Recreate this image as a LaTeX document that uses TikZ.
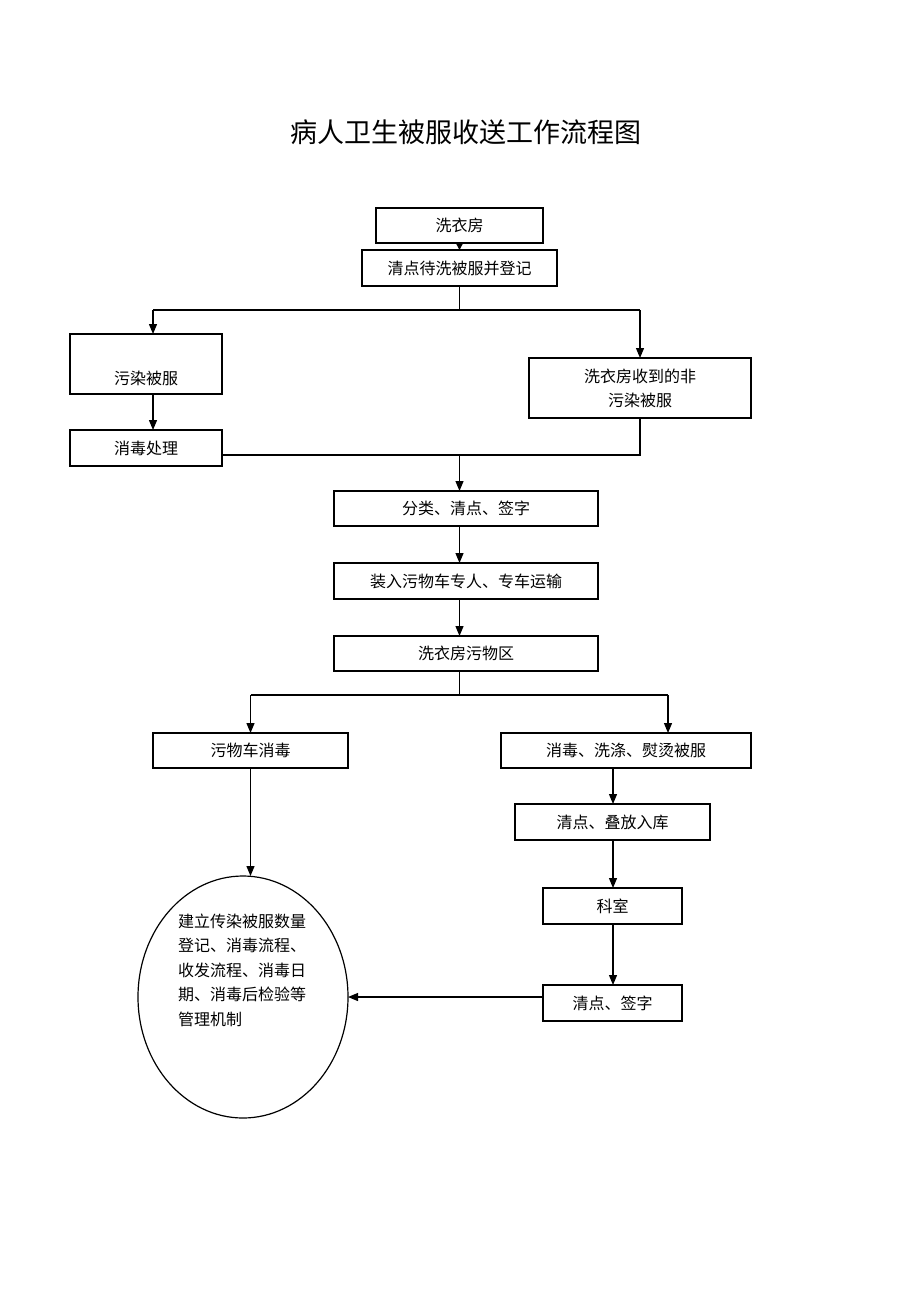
\documentclass[tikz,border=0pt]{standalone}
\usepackage{fontspec}
\setmainfont{Noto Sans CJK SC}
\usetikzlibrary{arrows.meta,shapes.geometric}
\tikzset{
  box/.style={draw=black, line width=1.3pt, inner sep=0pt, outer sep=0pt, font=\fontsize{16}{20}\selectfont},
  conn/.style={draw=black, line width=1.2pt},
  arr/.style={conn, -{Triangle[length=10pt,width=8pt]}},
  smallarr/.style={conn, -{Triangle[length=6pt,width=6pt]}},
}
\begin{document}
\begin{tikzpicture}[x=1pt,y=-1pt]
\useasboundingbox[fill=white] (0,0) rectangle (920,1302);
\node[font=\fontsize{27}{30}\selectfont] (title) at (466,132) {病人卫生被服收送工作流程图};
\node[box, minimum width=167, minimum height=35] (xiyifang) at (459.5,225.5) {洗衣房};
\node[box, minimum width=195, minimum height=36] (qingdian1) at (459.5,268) {清点待洗被服并登记};
\node[box, minimum width=152, minimum height=60] (wuran) at (146,364) {};
\node[font=\fontsize{16}{20}\selectfont] (wurantext) at (146,378) {污染被服};
\node[box, minimum width=152, minimum height=36] (xiaodu) at (146,448) {消毒处理};
\node[box, minimum width=222, minimum height=60, align=center, font=\fontsize{16}{24}\selectfont] (feiwuran) at (640,388) {洗衣房收到的非\\污染被服};
\node[box, minimum width=264, minimum height=35] (fenlei) at (466,508.5) {分类、清点、签字};
\node[box, minimum width=264, minimum height=36] (zhuangru) at (466,581) {装入污物车专人、专车运输};
\node[box, minimum width=264, minimum height=35] (wuwuqu) at (466,653.5) {洗衣房污物区};
\node[box, minimum width=195, minimum height=35] (wuwuche) at (250.5,750.5) {污物车消毒};
\node[box, minimum width=250, minimum height=35] (xidi) at (626,750.5) {消毒、洗涤、熨烫被服};
\node[box, minimum width=195, minimum height=36] (diefang) at (612.5,822) {清点、叠放入库};
\node[box, minimum width=139, minimum height=36] (keshi) at (612.5,906) {科室};
\node[box, minimum width=139, minimum height=36] (qianzi) at (612.5,1003) {清点、签字};
\node[ellipse, draw=black, line width=1.2pt, minimum width=210, minimum height=242, inner sep=0pt, outer sep=0pt] (circ) at (243,997) {};
\node[align=left, font=\fontsize{16}{24.5}\selectfont, inner sep=0pt] (circtext) at (242,970) {建立传染被服数量\\登记、消毒流程、\\收发流程、消毒日\\期、消毒后检验等\\管理机制};
% connectors
\draw[smallarr] (xiyifang.south) -- (qingdian1.north);
\coordinate (s1L) at (153,310);
\coordinate (s1R) at (640,310);
\draw[conn] (qingdian1.south) -- (qingdian1.south |- s1L);
\draw[conn] (s1L) -- (s1R);
\draw[arr] (s1L) -- (s1L |- wuran.north);
\draw[arr] (s1R) -- (s1R |- feiwuran.north);
\draw[arr] (wuran.south -| s1L) -- (xiaodu.north -| s1L);
\coordinate (m) at (459.5,455);
\draw[conn] (m -| xiaodu.east) -- (m -| feiwuran.south) -- (feiwuran.south);
\draw[arr] (m) -- (m |- fenlei.north);
\draw[arr] (fenlei.south -| m) -- (zhuangru.north -| m);
\draw[arr] (zhuangru.south -| m) -- (wuwuqu.north -| m);
\coordinate (s2L) at (250.5,695);
\coordinate (s2R) at (668,695);
\draw[conn] (wuwuqu.south -| m) -- (s2L -| m);
\draw[conn] (s2L) -- (s2R);
\draw[arr] (s2L) -- (s2L |- wuwuche.north);
\draw[arr] (s2R) -- (s2R |- xidi.north);
\draw[arr] (wuwuche.south) -- (wuwuche.south |- circ.north);
\coordinate (c2) at (613,780);
\draw[arr] (xidi.south -| c2) -- (diefang.north -| c2);
\draw[arr] (diefang.south -| c2) -- (keshi.north -| c2);
\draw[arr] (keshi.south -| c2) -- (qianzi.north -| c2);
\coordinate (c3) at (500,997);
\draw[arr] (qianzi.west |- c3) -- (circ.east |- c3);
\end{tikzpicture}
\end{document}
